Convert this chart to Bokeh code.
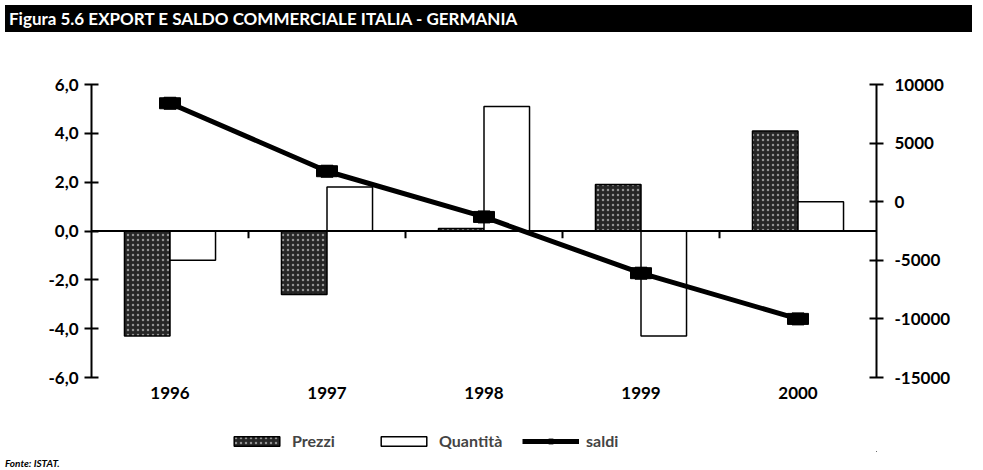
from bokeh.plotting import figure
from bokeh.models import (Range1d, LinearAxis, FixedTicker, CustomJSTickFormatter,
                          Legend, LegendItem, Span, Div, ColumnDataSource)
from bokeh.layouts import column
from bokeh.transform import dodge
from bokeh.embed import file_html
from bokeh.resources import INLINE

# ---------------- data ----------------
years = [1996, 1997, 1998, 1999, 2000]
prezzi = [-4.3, -2.6, 0.1, 1.9, 4.1]
quantita = [-1.2, 1.8, 5.1, -4.3, 1.2]
saldi = [8400, 2600, -1300, -6100, -10000]
left_ticks = [-6, -4, -2, 0, 2, 4, 6]
right_ticks = [-15000, -10000, -5000, 0, 5000, 10000]
title_text = "Figura 5.6 EXPORT E SALDO COMMERCIALE ITALIA - GERMANIA"
source_text = "Fonte: ISTAT."
series_names = ["Prezzi", "Quantità", "saldi"]

FONT = "Lato"
TICK_SIZE = "17px"

src = ColumnDataSource(dict(year=years, prezzi=prezzi, quantita=quantita, saldi=saldi))
bounds = [(a + b) / 2 for a, b in zip(years[:-1], years[1:])]
bsrc = ColumnDataSource(dict(x=bounds, y0=[0] * len(bounds), y1=[-0.3] * len(bounds)))

PREZZI_STYLE = dict(fill_color="#262626", line_color="black", line_width=1.5,
                    hatch_pattern="dot", hatch_color="white", hatch_scale=5,
                    hatch_weight=1.2, hatch_alpha=0.5)
QUANT_STYLE = dict(fill_color="white", line_color="black", line_width=1.5)


def add_series(fig):
    rp = fig.vbar(x=dodge("year", -0.145), top="prezzi", width=0.29, source=src, **PREZZI_STYLE)
    rq = fig.vbar(x=dodge("year", 0.145), top="quantita", width=0.29, source=src, **QUANT_STYLE)
    rl = fig.line("year", "saldi", source=src, y_range_name="saldi", line_color="black", line_width=5)
    rs = fig.scatter("year", "saldi", source=src, y_range_name="saldi", marker="square",
                     size=12, fill_color="black", line_color="black")
    return rp, rq, rl, rs


def style_axis(ax, tick_in, tick_out, standoff):
    ax.major_tick_in = tick_in
    ax.major_tick_out = tick_out
    ax.minor_tick_line_color = None
    ax.major_label_standoff = standoff
    ax.major_label_text_font = FONT
    ax.major_label_text_font_size = TICK_SIZE
    ax.major_label_text_font_style = "bold"
    ax.major_label_text_color = "black"


# ---------------- main chart ----------------
p = figure(width=967, height=365, output_backend="svg", toolbar_location=None,
           x_range=Range1d(years[0] - 0.5, years[-1] + 0.5), y_range=Range1d(-6, 6),
           min_border_left=91, min_border_right=91, min_border_top=47, min_border_bottom=25)
p.extra_y_ranges = {"saldi": Range1d(-15000, 10000)}
p.outline_line_color = None
p.grid.visible = False
p.background_fill_color = "white"
p.border_fill_color = "white"

xa = p.xaxis[0]
xa.ticker = FixedTicker(ticks=years)
xa.formatter = CustomJSTickFormatter(code="return tick.toFixed(0)")
xa.axis_line_color = None
xa.major_tick_line_color = None
style_axis(xa, 0, 0, 9)

ya = p.yaxis[0]
ya.ticker = FixedTicker(ticks=left_ticks)
ya.formatter = CustomJSTickFormatter(code="return tick.toFixed(1).replace('.', ',')")
ya.axis_line_width = 2
ya.major_tick_line_width = 2
style_axis(ya, 7, 7, 6)

ra = LinearAxis(y_range_name="saldi", ticker=FixedTicker(ticks=right_ticks),
                formatter=CustomJSTickFormatter(code="return tick.toFixed(0)"))
ra.axis_line_width = 2
ra.major_tick_line_width = 2
style_axis(ra, 7, 7, 11)
p.add_layout(ra, "right")

add_series(p)
p.add_layout(Span(location=0, dimension="width", line_color="black", line_width=2))
p.segment(x0="x", y0="y0", x1="x", y1="y1", source=bsrc, line_color="black", line_width=2)
p.rect("year", "saldi", width=21, height=11, width_units="screen", height_units="screen",
       source=src, y_range_name="saldi", fill_color="black", line_color="black")

# ---------------- legend strip (same data, ranges kept away from it) ----------------
lf = figure(width=967, height=50, output_backend="svg", toolbar_location=None,
            x_range=Range1d(0, 1), y_range=Range1d(100, 101),
            min_border=0, x_axis_location=None, y_axis_location=None)
lf.extra_y_ranges = {"saldi": Range1d(1e6, 1e6 + 1)}
lf.outline_line_color = None
lf.grid.visible = False
lp, lq, ll, ls = add_series(lf)
legend = Legend(items=[LegendItem(label=series_names[0], renderers=[lp]),
                       LegendItem(label=series_names[1], renderers=[lq]),
                       LegendItem(label=series_names[2], renderers=[ll, ls])],
                orientation="horizontal", location=(137, 2),
                glyph_width=57, glyph_height=12, label_width=80, spacing=3,
                label_standoff=7, padding=0, margin=0,
                border_line_color=None, background_fill_alpha=0,
                label_text_font=FONT, label_text_font_size="16px",
                label_text_font_style="bold")
lf.add_layout(legend)

title_div = Div(text=title_text, width=967, height=27,
                styles={"background-color": "black", "color": "white",
                        "font-weight": "bold", "font-size": "17px",
                        "font-family": FONT, "line-height": "27px",
                        "padding-left": "4px", "box-sizing": "border-box"})
foot_div = Div(text=source_text, width=967, height=12,
               styles={"font-style": "italic", "font-weight": "bold", "font-size": "10px",
                       "font-family": FONT, "line-height": "12px"})

layout = column(title_div, p, lf, foot_div, spacing=0)
open("out.html", "w").write(file_html(layout, INLINE))
